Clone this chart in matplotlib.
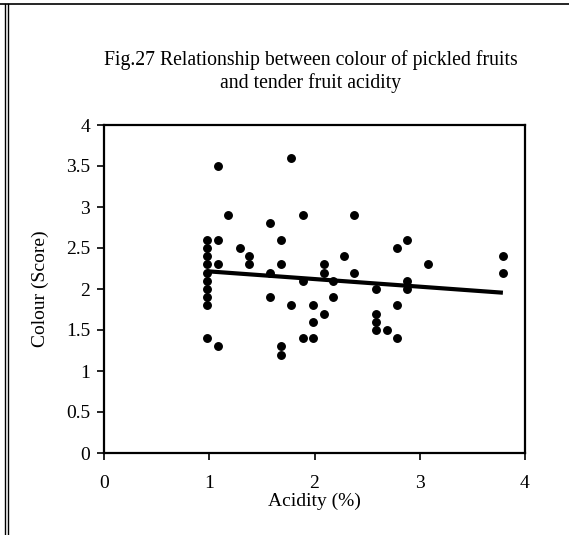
import numpy as np
import matplotlib
matplotlib.use("Agg")
import matplotlib.pyplot as plt
from matplotlib.lines import Line2D

plt.rcParams['font.family'] = ['Liberation Serif', 'DejaVu Serif']

# tender fruit acidity (%) and colour score of the pickled fruit
acidity = [0.98, 0.98, 0.98, 0.98, 0.98, 0.98, 0.98, 0.98, 0.98, 0.98,
           1.08, 1.08, 1.08, 1.08,
           1.18, 1.29, 1.38, 1.38,
           1.58, 1.58, 1.58,
           1.68, 1.68, 1.68, 1.68,
           1.78, 1.78,
           1.89, 1.89, 1.89,
           1.99, 1.99, 1.99,
           2.09, 2.09, 2.09,
           2.18, 2.18, 2.28, 2.38, 2.38,
           2.58, 2.58, 2.58, 2.58, 2.69,
           2.78, 2.78, 2.78,
           2.88, 2.88, 2.88,
           3.08, 3.79, 3.79]
colour = [2.6, 2.5, 2.4, 2.3, 2.2, 2.1, 2.0, 1.9, 1.8, 1.4,
          3.5, 2.6, 2.3, 1.3,
          2.9, 2.5, 2.4, 2.3,
          2.8, 2.2, 1.9,
          2.6, 2.3, 1.3, 1.2,
          3.6, 1.8,
          2.9, 2.1, 1.4,
          1.8, 1.6, 1.4,
          2.3, 2.2, 1.7,
          2.1, 1.9, 2.4, 2.9, 2.2,
          2.0, 1.7, 1.6, 1.5, 1.5,
          2.5, 1.8, 1.4,
          2.6, 2.1, 2.0,
          2.3, 2.4, 2.2]

xticks = [0, 1, 2, 3, 4]
yticks = [0, 0.5, 1, 1.5, 2, 2.5, 3, 3.5, 4]

x = np.array(acidity)
y = np.array(colour)
slope, icpt = np.polyfit(x, y, 1)
xfit = np.array([x.min(), x.max()])

fig = plt.figure(figsize=(5.69, 5.35), dpi=100)
ax = fig.add_axes([104/569, 1-453/535, 421/569, 328/535])

ax.plot(x, y, 'o', color='black', markersize=5.4, zorder=3)
ax.plot(xfit, slope*xfit + icpt, color='black', lw=3, solid_capstyle='butt', zorder=4)

ax.set_xlim(0, 4)
ax.set_ylim(0, 4)
ax.set_xticks(xticks)
ax.set_xticklabels([str(t) for t in xticks])
ax.set_yticks(yticks)
ax.set_yticklabels([('%g' % t) for t in yticks])
ax.tick_params(direction='out', length=5, width=1.2, labelsize=14, colors='black', pad=5)
ax.tick_params(axis='x', pad=11)
for s in ax.spines.values():
    s.set_linewidth(1.6)
    s.set_color('black')

ax.set_xlabel('Acidity (%)', fontsize=14, labelpad=0)
ax.set_ylabel('Colour (Score)', fontsize=14, labelpad=12)

fig.text(0.546, 1-60/535, 'Fig.27 Relationship between colour of pickled fruits',
         ha='center', va='center', fontsize=14.2)
fig.text(0.546, 1-83/535, 'and tender fruit acidity',
         ha='center', va='center', fontsize=14.2)

# chart area border
fig.add_artist(Line2D([0, 1], [1-4/535, 1-4/535], color='black', lw=1.2))
fig.add_artist(Line2D([5/569, 5/569], [0, 1-4/535], color='black', lw=1.0))
fig.add_artist(Line2D([8/569, 8/569], [0, 1-4/535], color='black', lw=1.0))

fig.savefig('out.png', dpi=100)
